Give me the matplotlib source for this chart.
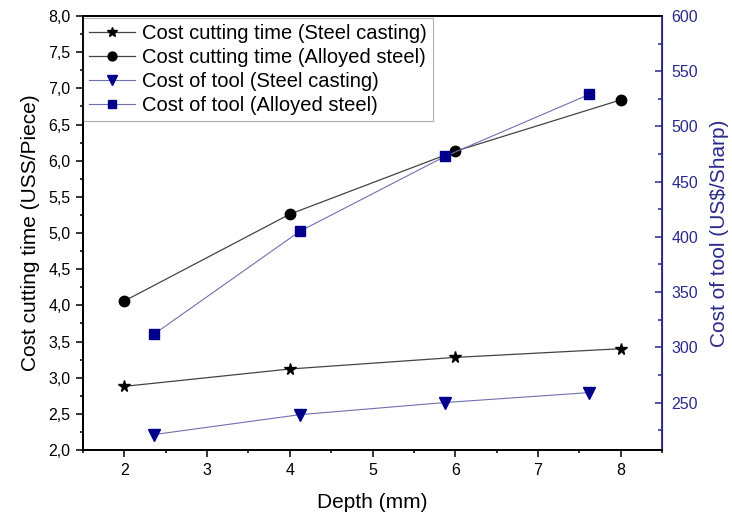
import numpy as np
import matplotlib.pyplot as plt
from matplotlib.ticker import MultipleLocator, FuncFormatter

plt.rcParams['font.family'] = ['Liberation Sans', 'DejaVu Sans']

# Depth values (mm)
depth_cut = [2, 4, 6, 8]
depth_tool = [2.36, 4.12, 5.88, 7.62]

# Cost cutting time (US$/Piece)
cut_steel_casting = [2.88, 3.12, 3.28, 3.40]
cut_alloyed_steel = [4.06, 5.26, 6.13, 6.84]

# Cost of tool (US$/Sharp)
tool_steel_casting = [221, 239, 250, 259]
tool_alloyed_steel = [312, 405, 473, 529]

navy = '#2a2a8a'

fig = plt.figure(figsize=(7.32, 5.13), dpi=100)
ax = fig.add_axes([0.1134, 0.1228, 0.791, 0.846])
ax2 = ax.twinx()

l1, = ax.plot(depth_cut, cut_steel_casting, '-', color='#444444', lw=0.9,
              marker='*', ms=8.5, mfc='black', mec='black')
l2, = ax.plot(depth_cut, cut_alloyed_steel, '-', color='#444444', lw=0.9,
              marker='o', ms=7.5, mfc='black', mec='black')
l3, = ax2.plot(depth_tool, tool_steel_casting, '-', color='#7070b0', lw=0.8,
               marker='v', ms=8, mfc='#00008b', mec='#00008b')
l4, = ax2.plot(depth_tool, tool_alloyed_steel, '-', color='#7070b0', lw=0.8,
               marker='s', ms=6.5, mfc='#00008b', mec='#00008b')

ax.set_xlim(1.5, 8.5)
ax.set_ylim(2.0, 8.0)
ax2.set_ylim(207, 600)

ax.xaxis.set_major_locator(MultipleLocator(1))
ax.xaxis.set_minor_locator(MultipleLocator(0.5))
ax.yaxis.set_major_locator(MultipleLocator(0.5))
ax.yaxis.set_minor_locator(MultipleLocator(0.25))
ax.yaxis.set_major_formatter(FuncFormatter(lambda v, p: f'{v:.1f}'.replace('.', ',')))
ax2.yaxis.set_major_locator(MultipleLocator(50))
ax2.yaxis.set_minor_locator(MultipleLocator(25))

ax.tick_params(axis='both', which='major', direction='out', length=5, width=1.1,
               labelsize=11.5, pad=4)
ax.tick_params(axis='both', which='minor', direction='out', length=2.5, width=1.1)
ax.tick_params(axis='x', top=False, which='both')
ax2.tick_params(axis='y', which='major', direction='in', length=5, width=1.1,
                labelsize=11.5, colors=navy, pad=7)
ax2.tick_params(axis='y', which='minor', direction='in', length=3, width=1.1, colors=navy)

for s in ['left', 'bottom', 'top']:
    ax.spines[s].set_linewidth(1.3)
    ax2.spines[s].set_linewidth(1.3)
ax2.spines['right'].set_color(navy)
ax2.spines['right'].set_linewidth(1.3)

ax.set_xlabel('Depth (mm)', fontsize=15, labelpad=11)
ax.set_ylabel('Cost cutting time (USS/Piece)', fontsize=15, labelpad=6)
ax2.set_ylabel('Cost of tool (US$/Sharp)', fontsize=15, color=navy, labelpad=8)

leg = ax.legend([l1, l2, l3, l4],
                ['Cost cutting time (Steel casting)', 'Cost cutting time (Alloyed steel)',
                 'Cost of tool (Steel casting)', 'Cost of tool (Alloyed steel)'],
                loc='upper left', bbox_to_anchor=(0, 0.995), fontsize=14.5,
                fancybox=False, framealpha=1, edgecolor='#b0b0b0', borderpad=0.3,
                labelspacing=0.25, handlelength=2.3, handletextpad=0.35,
                borderaxespad=0, markerscale=0.85)
leg.get_frame().set_linewidth(0.8)

fig.savefig('out.png', dpi=100)
